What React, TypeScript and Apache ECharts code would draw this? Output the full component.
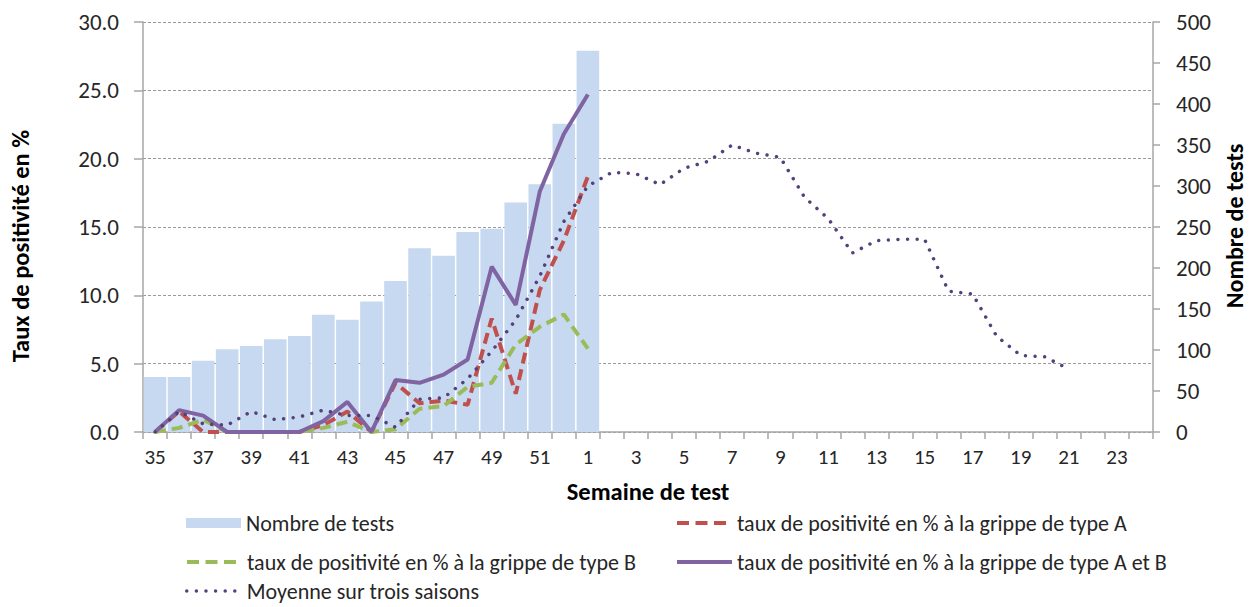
import React, { useEffect, useRef } from "react";
import * as echarts from "echarts";

const weeks: string[] = [
  "35", "36", "37", "38", "39", "40", "41", "42", "43", "44", "45", "46", "47", "48", "49", "50", "51", "52",
  "1", "2", "3", "4", "5", "6", "7", "8", "9", "10", "11", "12", "13", "14", "15", "16", "17", "18", "19", "20", "21", "22", "23", "24",
];

const nombreTests: number[] = [67, 67, 87, 101, 105, 113, 117, 143, 137, 159, 184, 224, 215, 244, 248, 280, 302, 376, 465];

const tauxA: number[] = [0, 1.5, 0, 0, 0, 0, 0, 0.5, 1.5, 0, 3.6, 2.1, 2.3, 2.0, 8.3, 2.8, 10.4, 14.0, 18.7];

const tauxB: number[] = [0, 0.3, 0.9, 0, 0, 0, 0, 0.3, 0.75, 0, 0.2, 1.7, 1.9, 3.3, 3.6, 6.4, 7.7, 8.6, 6.1];

const tauxAB: number[] = [0, 1.6, 1.2, 0, 0, 0, 0, 0.8, 2.2, 0, 3.8, 3.6, 4.2, 5.3, 12.1, 9.3, 17.6, 21.8, 24.7];

const moyenne: number[] = [
  0, 1.5, 0.6, 0.5, 1.5, 0.9, 1.1, 1.6, 1.2, 1.2, 0.35, 2.4, 2.5, 3.9, 5.9, 8.2, 11.4, 15.4,
  18.0, 19.0, 18.9, 18.1, 19.3, 19.8, 21.0, 20.4, 20.1, 17.2, 15.6, 13.1, 14.0, 14.1, 14.1, 10.3, 10.1, 7.0, 5.6, 5.5, 4.6,
];

const leftTicks: number[] = [0, 5, 10, 15, 20, 25, 30];
const rightTicks: number[] = [0, 50, 100, 150, 200, 250, 300, 350, 400, 450, 500];

const NAME_TESTS = "Nombre de tests";
const NAME_A = "taux de positivité en % à la grippe de type A";
const NAME_B = "taux de positivité en % à la grippe de type B";
const NAME_AB = "taux de positivité en % à la grippe de type A et B";
const NAME_MOY = "Moyenne sur trois saisons";

const FONT = "Carlito, Lato, 'Open Sans', sans-serif";
const TXT = "#262626";
const AXIS = "#a6a6a6";

const RED = "#c0504d";
const GREEN = "#9bbb59";
const PURPLE = "#8064a2";
const DOT = "#54407a";

const DASH = [11, 6];
const DOTS = [0.01, 9.6];

export default function App() {
  const ref = useRef<HTMLDivElement>(null);

  useEffect(() => {
    document.body.style.margin = "0";
    document.body.style.overflow = "hidden";
    if (!ref.current) return;
    const chart = echarts.init(ref.current, undefined, { renderer: "svg" });

    const legendBase = (name: string, left: number, top: number, line?: any) => {
      const o: any = {
        data: [name],
        left,
        top,
        padding: 0,
        itemWidth: 55,
        itemHeight: 10,
        itemGap: 0,
        selectedMode: false,
        textStyle: { fontFamily: FONT, fontSize: 22, lineHeight: 20, color: TXT },
      };
      if (line) {
        o.itemStyle = { opacity: 0 };
        o.lineStyle = line;
      } else {
        o.icon = "rect";
      }
      return o;
    };

    chart.setOption({
      animation: false,
      textStyle: { fontFamily: FONT },
      grid: { left: 143, right: 96, top: 22, bottom: 175, containLabel: false },
      legend: [
        legendBase(NAME_TESTS, 186, 512),
        legendBase(NAME_A, 675, 512, { color: RED, width: 4, type: [12, 6.5], cap: "butt", opacity: 1 }),
        legendBase(NAME_B, 185, 551, { color: GREEN, width: 4, type: [12, 6.5], cap: "butt", opacity: 1 }),
        legendBase(NAME_AB, 675, 551, { color: PURPLE, width: 4, type: "solid", opacity: 1 }),
        legendBase(NAME_MOY, 185, 580, { color: DOT, width: 3.5, type: DOTS, cap: "round", opacity: 1 }),
      ],
      graphic: [
        {
          type: "text",
          x: 21,
          y: 246,
          rotation: Math.PI / 2,
          style: {
            text: "Taux de positivité en %",
            font: `bold 24.5px ${FONT}`,
            fill: "#000",
            textAlign: "center",
            textVerticalAlign: "middle",
          },
        },
        {
          type: "text",
          x: 1234,
          y: 226,
          rotation: Math.PI / 2,
          style: {
            text: "Nombre de tests",
            font: `bold 24px ${FONT}`,
            fill: "#000",
            textAlign: "center",
            textVerticalAlign: "middle",
          },
        },
      ],
      xAxis: {
        type: "category",
        data: weeks,
        boundaryGap: true,
        name: "Semaine de test",
        nameLocation: "middle",
        nameGap: 47,
        nameTextStyle: { fontFamily: FONT, fontSize: 24.5, fontWeight: "bold", color: "#000" },
        axisLine: { show: true, lineStyle: { color: AXIS, width: 1.5 } },
        axisTick: { show: true, interval: 0, length: 7, lineStyle: { color: AXIS, width: 1.5 } },
        axisLabel: { interval: 1, margin: 14, fontFamily: FONT, fontSize: 21, color: TXT },
        splitLine: { show: false },
      },
      yAxis: [
        {
          type: "value",
          min: leftTicks[0],
          max: leftTicks[leftTicks.length - 1],
          interval: 5,
          position: "left",
          axisLine: { show: true, lineStyle: { color: AXIS, width: 1.5 } },
          axisTick: { show: true, length: 9, lineStyle: { color: AXIS, width: 1.5 } },
          axisLabel: {
            margin: 24,
            fontFamily: FONT,
            fontSize: 23,
            color: TXT,
            formatter: (v: number) => v.toFixed(1),
          },
          splitLine: { show: true, lineStyle: { color: "#9a9a9a", type: [3, 2], width: 1 } },
        },
        {
          type: "value",
          min: rightTicks[0],
          max: rightTicks[rightTicks.length - 1],
          interval: 50,
          position: "right",
          axisLine: { show: true, lineStyle: { color: AXIS, width: 1.5 } },
          axisTick: { show: true, length: 7, lineStyle: { color: AXIS, width: 1.5 } },
          axisLabel: { margin: 23, fontFamily: FONT, fontSize: 23, color: TXT },
          splitLine: { show: false },
        },
      ],
      series: [
        {
          name: NAME_TESTS,
          type: "bar",
          yAxisIndex: 1,
          data: nombreTests,
          barCategoryGap: "6%",
          itemStyle: { color: "#c6d9f1" },
        },
        {
          name: NAME_A,
          type: "line",
          yAxisIndex: 0,
          data: tauxA,
          symbol: "none",
          lineStyle: { color: RED, width: 4, type: DASH },
          itemStyle: { color: RED },
          z: 3,
        },
        {
          name: NAME_B,
          type: "line",
          yAxisIndex: 0,
          data: tauxB,
          symbol: "none",
          lineStyle: { color: GREEN, width: 4, type: DASH },
          itemStyle: { color: GREEN },
          z: 3,
        },
        {
          name: NAME_AB,
          type: "line",
          yAxisIndex: 0,
          data: tauxAB,
          symbol: "none",
          lineStyle: { color: PURPLE, width: 4 },
          itemStyle: { color: PURPLE },
          z: 4,
        },
        {
          name: NAME_MOY,
          type: "line",
          yAxisIndex: 0,
          data: moyenne,
          symbol: "none",
          lineStyle: { color: DOT, width: 3.5, type: DOTS, cap: "round" },
          itemStyle: { color: DOT },
          z: 5,
        },
      ],
    });

    return () => chart.dispose();
  }, []);

  return <div ref={ref} style={{ width: 1249, height: 607 }} />;
}
